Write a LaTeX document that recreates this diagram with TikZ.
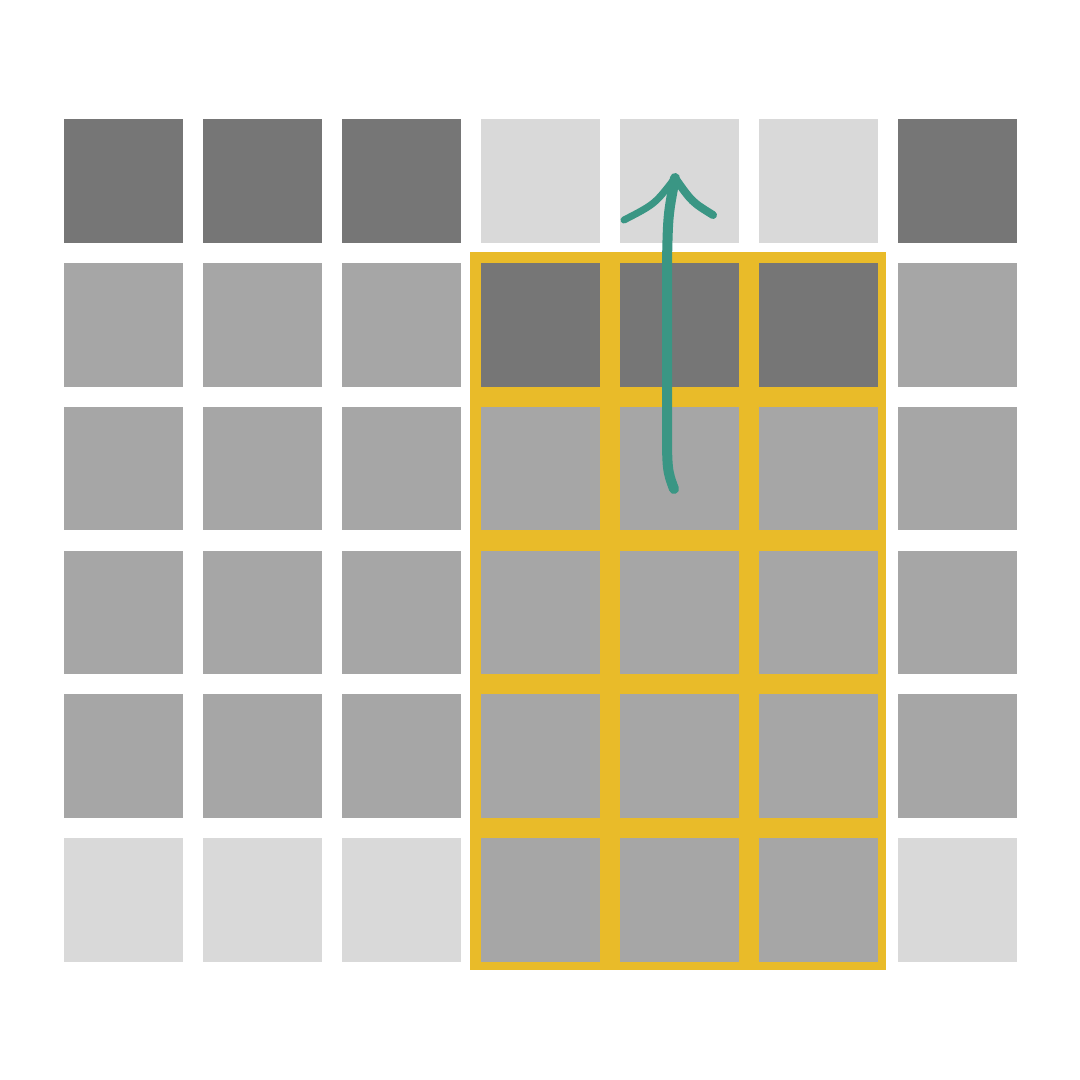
\documentclass[tikz,border=0pt]{standalone}
\usepackage{tikz}

\definecolor{cellD}{HTML}{767676}
\definecolor{cellM}{HTML}{A6A6A6}
\definecolor{cellL}{HTML}{D9D9D9}
\definecolor{frameyellow}{HTML}{E9BB29}
\definecolor{arrowgreen}{HTML}{3A9684}

\tikzset{
    cell/.style={draw=none, minimum width=119pt, minimum height=123.5pt, inner sep=0pt, anchor=north west},
    pen/.style={draw=arrowgreen, line width=10pt, line cap=round, line join=round}
}

\begin{document}
\begin{tikzpicture}[x=1pt, y=-1pt]
    \useasboundingbox[fill=white] (0,0) rectangle (1080,1080);

    % Yellow frame behind the selected block
    \fill[frameyellow] (470,252) rectangle (886,970);

    % Draw cells
    \foreach \row/\cols in {1/{D,D,D,L,L,L,D}, 2/{M,M,M,D,D,D,M}, 3/{M,M,M,M,M,M,M},
                            4/{M,M,M,M,M,M,M}, 5/{M,M,M,M,M,M,M}, 6/{L,L,L,M,M,M,L}} {
        \foreach \c [count=\col] in \cols {
            \node[cell, fill=cell\c] (c\row\col) at ({64+139*(\col-1)}, {119+143.8*(\row-1)}) {};
        }
    }

    % Hand-drawn arrow
    \coordinate (tail) at (674,489);
    \coordinate (tip) at (675,178);
    \coordinate (wingL) at (624,220);
    \coordinate (wingR) at (713,215);
    \draw[pen] (tail) .. controls (667,470) .. (667,420) -- (667,262) .. controls (668,215) .. (tip);
    \draw[pen, line width=7pt] (wingL) .. controls (655,204) .. (tip);
    \draw[pen, line width=8pt] (tip) .. controls (692,202) .. (wingR);
\end{tikzpicture}
\end{document}
